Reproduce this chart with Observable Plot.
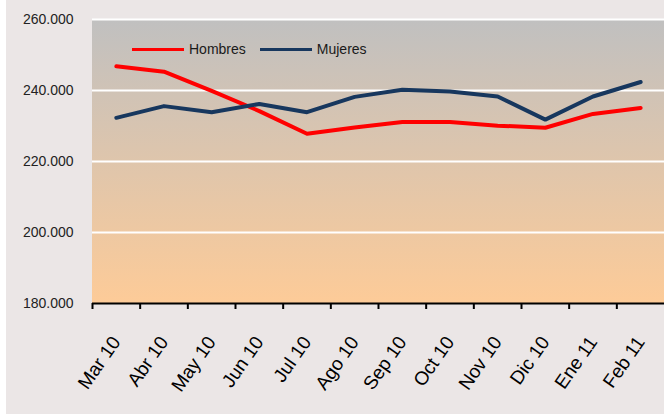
<!DOCTYPE html>
<html><head><meta charset="utf-8">
<script src="https://cdn.jsdelivr.net/npm/d3@7"></script>
<script src="https://cdn.jsdelivr.net/npm/@observablehq/plot@0.6"></script>
<style>
body{margin:0;background:#fff;}
#wrap{position:relative;width:664px;height:414px;}
#legend{position:absolute;left:132px;top:41px;font:14px "Liberation Sans",Arial,sans-serif;color:#1a1a1a;display:flex;align-items:center;white-space:nowrap;}
#legend .item{display:flex;align-items:center;margin-right:14px;}
#legend .sw{display:inline-block;width:52px;height:3px;margin-right:5px;}
</style></head><body><div id="wrap"><div id="legend"></div></div>
<script>
const months = ["Mar 10","Abr 10","May 10","Jun 10","Jul 10","Ago 10","Sep 10","Oct 10","Nov 10","Dic 10","Ene 11","Feb 11"];
const hombres = [246800, 245300, 239900, 234200, 227800, 229600, 231100, 231100, 230100, 229500, 233400, 235100];
const mujeres = [232300, 235600, 233900, 236200, 233900, 238200, 240200, 239700, 238300, 231800, 238300, 242400];
const series = ["Hombres","Mujeres"];
const colors = ["#ff0000","#17375e"];
const yTicks = [180000, 200000, 220000, 240000, 260000];

const data = series.flatMap((s, i) => months.map((m, j) => ({month: m, value: [hombres, mujeres][i][j], serie: s})));
const W = 664, H = 414, mL = 92, mR = 0, mT = 19, mB = 111;
const step = (W - mL - mR) / months.length;

const background = (index, scales, values, dims) => {
  const g = d3.create("svg:g");
  const grad = g.append("defs").append("linearGradient").attr("id", "bggrad")
    .attr("x1", 0).attr("x2", 0).attr("y1", 0).attr("y2", 1);
  grad.append("stop").attr("offset", "0%").attr("stop-color", "#c0c0c0");
  grad.append("stop").attr("offset", "100%").attr("stop-color", "#fdcb98");
  const y0 = scales.y(yTicks[yTicks.length - 1]), y1 = scales.y(yTicks[0]);
  g.append("rect").attr("x", dims.marginLeft).attr("y", y0)
    .attr("width", dims.width - dims.marginLeft - dims.marginRight)
    .attr("height", y1 - y0).attr("fill", "url(#bggrad)");
  return g.node();
};

const fmt = d => d3.format(",")(d).replace(/,/g, ".");

const chart = Plot.plot({
  width: W, height: H, marginLeft: mL, marginRight: mR, marginTop: mT, marginBottom: mB,
  style: {background: "linear-gradient(to right,#fff 6px,#ebe6e6 6px)", fontFamily: "'Liberation Sans',Arial,sans-serif", color: "#222", overflow: "visible"},
  x: {type: "point", domain: months, padding: 0.5, round: false, label: null},
  y: {domain: [yTicks[0], yTicks[yTicks.length - 1]], label: null},
  color: {domain: series, range: colors},
  marks: [
    background,
    Plot.ruleY(yTicks.slice(1), {stroke: "#fff", strokeWidth: 2}),
    Plot.axisY({ticks: yTicks, tickSize: 0, tickPadding: 19, fontSize: 14, tickFormat: fmt, label: null, fill: "#222"}),
    Plot.axisX({tickSize: 6, stroke: "#000", strokeWidth: 2, tickFormat: () => "", dx: -step / 2, label: null}),
    Plot.axisX({tickSize: 0, tickRotate: -55, tickPadding: 35, dx: 0, fontSize: 19, label: null, fill: "#000"}),
    Plot.ruleY([yTicks[0]], {stroke: "#000", strokeWidth: 2}),
    Plot.line(data, {x: "month", y: "value", z: "serie", stroke: "serie", strokeWidth: 4, strokeLinejoin: "round", strokeLinecap: "round"})
  ]
});
document.getElementById("wrap").prepend(chart);

const legend = d3.select("#legend");
series.forEach((s, i) => {
  const it = legend.append("span").attr("class", "item");
  it.append("span").attr("class", "sw").style("background", colors[i]);
  it.append("span").text(s);
});
</script></body></html>
